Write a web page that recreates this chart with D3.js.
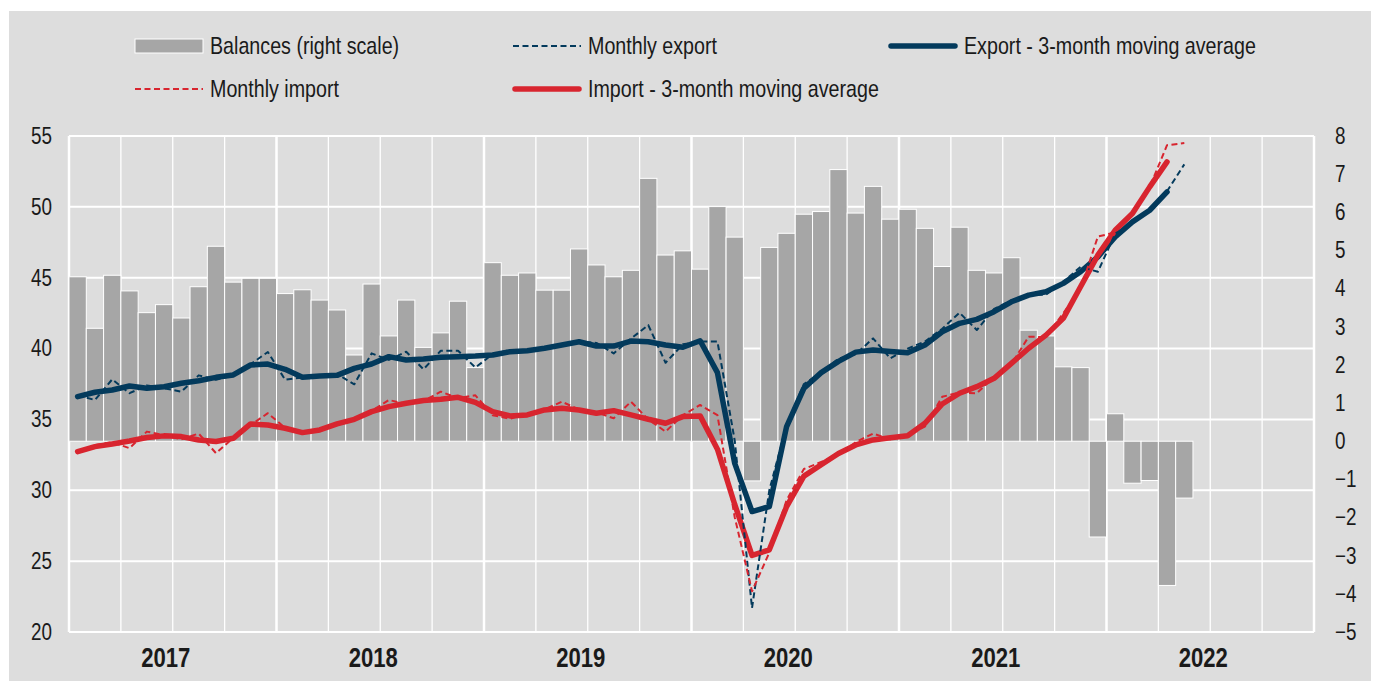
<!DOCTYPE html>
<html>
<head>
  <meta charset='utf-8'>
  <title>Balances, export and import</title>
  <style>
    body { margin: 0; background: #fff; }
    svg text { font-family: 'Liberation Sans Narrow', 'Arial Narrow', 'Liberation Sans', sans-serif; fill: #1a1a1a; }
  </style>
</head>
<body>
<div id="chart"></div>
<script src="https://cdnjs.cloudflare.com/ajax/libs/d3/7.8.5/d3.min.js"></script>
<script>

// --- data ---
var years = ['2017', '2018', '2019', '2020', '2021', '2022'];
var leftTicks = [20, 25, 30, 35, 40, 45, 50, 55];
var rightTicks = [-5, -4, -3, -2, -1, 0, 1, 2, 3, 4, 5, 6, 7, 8];

// trade balance, right scale, Jan 2017 - May 2022
var balances = [4.31, 2.96, 4.35, 3.94, 3.37, 3.58, 3.23, 4.05, 5.11, 4.17, 4.27, 4.27,
  3.87, 3.97, 3.70, 3.44, 2.26, 4.12, 2.76, 3.70, 2.46, 2.84, 3.67, 1.93,
  4.68, 4.35, 4.41, 3.96, 3.96, 5.04, 4.62, 4.31, 4.48, 6.89, 4.88, 4.99,
  4.51, 6.15, 5.35, -1.04, 5.08, 5.45, 5.95, 6.02, 7.12, 5.98, 6.68, 5.82,
  6.08, 5.58, 4.58, 5.61, 4.48, 4.41, 4.81, 2.91, 2.76, 1.95, 1.93, -2.51,
  0.72, -1.10, -1.03, -3.78, -1.49];

// monthly export, Jan 2017 - May 2022
var exportMonthly = [36.7, 36.37, 37.83, 36.85, 37.4, 37.2, 36.96, 38.11, 37.8, 38.1, 38.9, 39.76,
  37.8, 37.97, 38.1, 38.2, 37.48, 39.66, 39.2, 39.78, 38.54, 39.85, 39.85, 38.66,
  39.6, 39.9, 39.8, 40.1, 40.3, 40.5, 40.4, 39.66, 40.7, 41.66, 39.0, 40.3,
  40.5, 40.5, 33.5, 21.7, 30.0, 34.6, 37.5, 38.3, 39.3, 39.6, 40.72, 39.31,
  40.0, 40.5, 41.4, 42.53, 41.31, 42.8, 43.4, 43.8, 43.8, 44.7, 45.77, 45.42,
  48.1, 48.9, 49.8, 51.1, 53.0];

// export, centred 3-month moving average, Jan 2017 - Apr 2022
var exportAvg = [36.61, 36.92, 37.08, 37.36, 37.2, 37.31, 37.55, 37.73, 37.97, 38.14, 38.84, 38.91,
  38.54, 37.97, 38.07, 38.11, 38.6, 38.91, 39.43, 39.19, 39.26, 39.38, 39.43, 39.47,
  39.55, 39.78, 39.85, 40.02, 40.25, 40.48, 40.18, 40.18, 40.53, 40.48, 40.25, 40.09,
  40.55, 38.3, 31.9, 28.5, 28.85, 34.5, 37.2, 38.3, 39.1, 39.75, 39.9, 39.8,
  39.7, 40.25, 41.19, 41.78, 42.06, 42.6, 43.3, 43.77, 44.01, 44.6, 45.42, 46.47,
  47.88, 48.94, 49.76, 51.05];

// monthly import, Jan 2017 - May 2022
var importMonthly = [32.7, 33.2, 33.4, 32.97, 34.14, 33.9, 33.6, 34.0, 32.62, 33.7, 34.6, 35.44,
  34.4, 34.0, 34.3, 34.7, 35.0, 35.6, 36.37, 36.1, 36.3, 36.96, 36.5, 36.7,
  35.3, 35.05, 35.4, 35.7, 36.25, 35.7, 35.5, 35.08, 36.25, 35.0, 34.14, 35.3,
  36.02, 35.3, 28.1, 22.87, 25.6, 29.3, 31.5, 32.0, 32.5, 33.4, 34.0, 33.6,
  33.9, 34.5, 36.6, 36.9, 36.85, 38.0, 38.9, 40.84, 40.8, 42.5, 44.2, 47.9,
  48.2, 49.6, 51.4, 54.35, 54.5];

// import, centred 3-month moving average, Jan 2017 - Apr 2022
var importAvg = [32.73, 33.08, 33.27, 33.48, 33.72, 33.84, 33.79, 33.55, 33.44, 33.67, 34.68, 34.61,
  34.38, 34.07, 34.26, 34.68, 35.01, 35.55, 35.9, 36.14, 36.33, 36.42, 36.56, 36.2,
  35.55, 35.25, 35.32, 35.67, 35.79, 35.67, 35.44, 35.62, 35.32, 35.01, 34.73, 35.2,
  35.25, 32.9, 29.0, 25.4, 25.8, 28.85, 31.0, 31.8, 32.6, 33.2, 33.55, 33.7,
  33.85, 34.73, 36.09, 36.85, 37.31, 37.9, 38.96, 40.02, 40.95, 42.13, 44.36, 46.59,
  48.35, 49.53, 51.41, 53.17];

var months = [];
years.forEach(function(y) {
  for (var m = 1; m <= 12; m++) months.push(y + '-' + (m < 10 ? '0' + m : m));
});

var navy = '#033a5c', red = '#d8252f', barGray = '#a6a6a6', bg = '#dddddd';
var width = 1376, height = 681;
var plotL = 69, plotR = 1314, plotT = 136, plotB = 632;
var squeeze = 0.82; // narrow font look

// horizontally compress a text selection, keeping its anchor position
function narrow(sel) {
  sel.each(function() {
    var t = d3.select(this);
    var px = +t.attr('x') || 0;
    t.attr('x', px / squeeze).attr('transform', 'scale(' + squeeze + ',1)');
  });
}

var svg = d3.select('#chart').append('svg')
  .attr('width', width)
  .attr('height', height);

svg.append('rect')
  .attr('x', 9).attr('y', 11)
  .attr('width', 1362).attr('height', 670)
  .attr('fill', bg);

var x = d3.scaleBand().domain(months).range([plotL, plotR]).padding(0);
var yL = d3.scaleLinear().domain([20, 55]).range([plotB, plotT]);
var yR = d3.scaleLinear().domain([-5, 8]).range([plotB, plotT]);
var bw = x.bandwidth();
function cx(i) { return x(months[i]) + bw / 2; }

// grid
var grid = svg.append('g');
grid.selectAll('line.h')
  .data(leftTicks)
  .enter().append('line')
    .attr('x1', plotL).attr('x2', plotR)
    .attr('y1', function(d) { return yL(d); })
    .attr('y2', function(d) { return yL(d); })
    .attr('stroke', '#fff')
    .attr('stroke-width', 2);

var quarters = d3.range(0, months.length / 3 + 1);
grid.selectAll('line.v')
  .data(quarters)
  .enter().append('line')
    .attr('x1', function(q) { return q * 3 < months.length ? x(months[q * 3]) : plotR; })
    .attr('x2', function(q) { return q * 3 < months.length ? x(months[q * 3]) : plotR; })
    .attr('y1', plotT).attr('y2', plotB)
    .attr('stroke', '#fff')
    .attr('stroke-width', function(q) { return q % 4 === 0 ? 2.5 : 1.3; });

// bars
svg.append('g').selectAll('rect')
  .data(balances)
  .enter().append('rect')
    .attr('x', function(d, i) { return x(months[i]); })
    .attr('width', bw)
    .attr('y', function(d) { return Math.min(yR(d), yR(0)); })
    .attr('height', function(d) { return Math.abs(yR(d) - yR(0)); })
    .attr('fill', barGray)
    .attr('stroke', '#fff')
    .attr('stroke-width', 1);

var line = d3.line()
  .x(function(d, i) { return cx(i); })
  .y(function(d) { return yL(d); });

function addLine(data, color, w, dash) {
  svg.append('path')
    .datum(data)
    .attr('d', line)
    .attr('fill', 'none')
    .attr('stroke', color)
    .attr('stroke-width', w)
    .attr('stroke-linejoin', 'round')
    .attr('stroke-linecap', dash ? 'butt' : 'round')
    .attr('stroke-dasharray', dash || null);
}

addLine(exportAvg, navy, 5.5);
addLine(importAvg, red, 5.5);
addLine(exportMonthly, navy, 2, '6,3.5');
addLine(importMonthly, red, 2, '6,3.5');

// axes
var axL = svg.append('g')
  .attr('transform', 'translate(' + plotL + ',0)')
  .call(d3.axisLeft(yL).tickValues(leftTicks).tickSize(0).tickPadding(17));
var axR = svg.append('g')
  .attr('transform', 'translate(' + plotR + ',0)')
  .call(d3.axisRight(yR).tickValues(rightTicks).tickSize(0).tickPadding(21));
[axL, axR].forEach(function(a) {
  a.select('.domain').remove();
  a.selectAll('text')
    .attr('font-size', '23px')
    .attr('font-family', null)
    .attr('fill', '#1a1a1a')
    .call(narrow);
});

svg.append('g').selectAll('text')
  .data(years)
  .enter().append('text')
    .attr('x', function(d) { return x(d + '-01') + bw * 6 - 7; })
    .attr('y', 667)
    .attr('text-anchor', 'middle')
    .attr('font-size', '27px')
    .attr('font-weight', 'bold')
    .text(function(d) { return d; })
    .call(narrow);

// legend
var legend = [
  {label: 'Balances (right scale)', type: 'bar', x: 135, y: 46},
  {label: 'Monthly export', type: 'dash', color: navy, x: 513, y: 46},
  {label: 'Export - 3-month moving average', type: 'solid', color: navy, x: 889, y: 46},
  {label: 'Monthly import', type: 'dash', color: red, x: 135, y: 89},
  {label: 'Import - 3-month moving average', type: 'solid', color: red, x: 513, y: 89}
];
var items = svg.append('g').selectAll('g')
  .data(legend)
  .enter().append('g')
    .attr('transform', function(d) { return 'translate(' + d.x + ',' + d.y + ')'; });

items.filter(function(d) { return d.type === 'bar'; })
  .append('rect')
    .attr('x', 0).attr('y', -7).attr('width', 68).attr('height', 14)
    .attr('fill', barGray).attr('stroke', '#fff').attr('stroke-width', 1);
items.filter(function(d) { return d.type !== 'bar'; })
  .append('line')
    .attr('x1', function(d) { return d.type === 'solid' ? 2 : 0; })
    .attr('x2', function(d) { return d.type === 'solid' ? 66 : 68; })
    .attr('stroke', function(d) { return d.color; })
    .attr('stroke-width', function(d) { return d.type === 'solid' ? 5.5 : 2; })
    .attr('stroke-linecap', function(d) { return d.type === 'solid' ? 'round' : 'butt'; })
    .attr('stroke-dasharray', function(d) { return d.type === 'dash' ? '6,3.5' : null; });
items.append('text')
  .attr('x', 75)
  .attr('dy', '0.35em')
  .attr('font-size', '24px')
  .text(function(d) { return d.label; })
  .call(narrow);

</script>
</body>
</html>
